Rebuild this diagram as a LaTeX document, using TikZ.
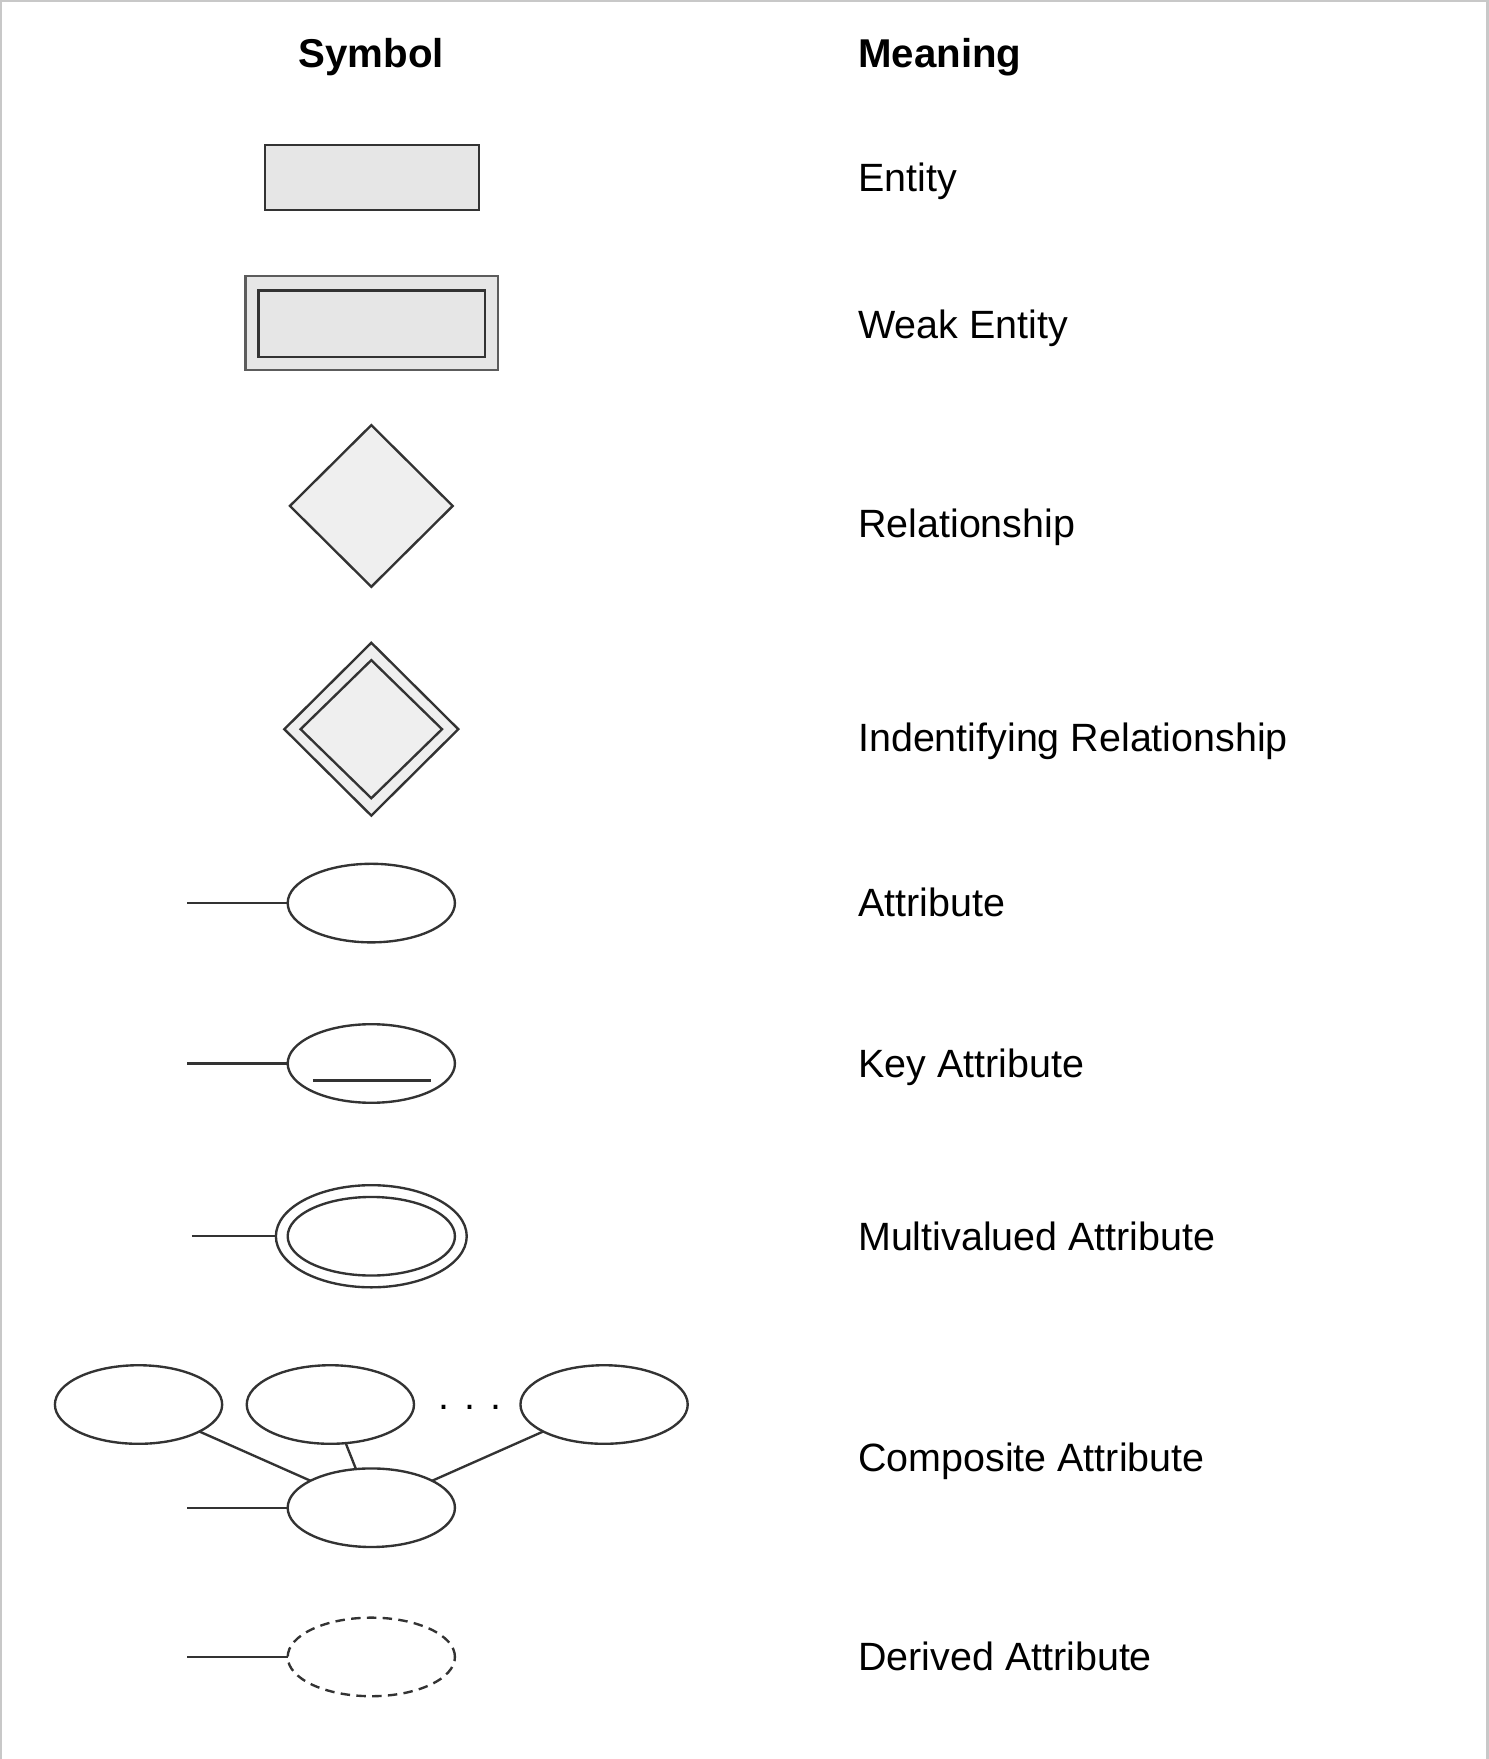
\documentclass[tikz,border=0pt]{standalone}
\usepackage{fontspec}
\setmainfont{Liberation Sans}
\usetikzlibrary{shapes.geometric,positioning}

\definecolor{shapefill}{HTML}{E6E6E6}
\definecolor{diafill}{HTML}{EFEFEF}
\definecolor{linegray}{HTML}{333333}
\definecolor{framegray}{HTML}{C8C8C8}

\begin{document}
\begin{tikzpicture}[x=0.01cm,y=-0.01cm,line width=0.6pt,
                    every node/.style={inner sep=0pt,outer sep=0pt},
                    every edge/.style={draw=linegray,line width=0.6pt},
                    head/.style={yshift=-0.03cm,font=\fontsize{10.2}{12}\selectfont\bfseries},
                    meaning/.style={anchor=mid west,yshift=-0.03cm,font=\fontsize{10}{12}\selectfont},
                    entity/.style={rectangle,draw=linegray,fill=shapefill},
                    relship/.style={diamond,draw=linegray,fill=diafill},
                    attr/.style={ellipse,draw=linegray,minimum width=1.49cm,minimum height=0.7cm}]
  \useasboundingbox (0,0) rectangle (1327,1568);
  \draw[framegray] (1,1568) -- (1,1) -- (1326,1) -- (1326,1568);

  \node[head] (symhead) at (331,48) {Symbol};
  \node[head,anchor=mid west] (meanhead) at (765,48) {Meaning};

  \node[entity,minimum width=1.91cm,minimum height=0.58cm] (ent) at (331.5,158) {};
  \node[entity,draw=linegray!80,minimum width=2.25cm,minimum height=0.84cm] (wkout) at (331.5,288) {};
  \node[entity,minimum width=2.02cm,minimum height=0.59cm] (wkin) at (331.5,288.5) {};

  \node[relship,minimum width=1.45cm,minimum height=1.44cm] (rel) at (331,451) {};
  \node[relship,minimum width=1.55cm,minimum height=1.54cm] (idout) at (331,650) {};
  \node[relship,minimum width=1.26cm,minimum height=1.23cm] (idin) at (331,650) {};

  \node[attr] (att) at (331,805) {};
  \node[attr] (key) at (331,948) {};
  \draw[linegray] (279,963) -- (384,963);
  \node[attr,minimum width=1.70cm,minimum height=0.91cm] (mvout) at (331,1102) {};
  \node[attr] (mvin) at (331,1102) {};

  \node[attr] (c1) at (123.5,1252) {};
  \node[attr] (c2) at (294.5,1252) {};
  \node[font=\fontsize{10}{12}\selectfont,anchor=base] (dots) at (419,1256) {. . .};
  \node[attr] (c3) at (538.5,1252) {};
  \node[attr] (comp) at (331,1344) {};

  \node[attr,dash pattern=on 2.4pt off 1.6pt] (der) at (331,1477) {};

  \coordinate (attS) at (167,805);
  \coordinate (keyS) at (167,948);
  \coordinate (mvS) at (171,1102);
  \coordinate (compS) at (167,1344);
  \coordinate (derS) at (167,1477);

  \path (attS) edge (att)
        (keyS) edge (key)
        (mvS) edge (mvout)
        (compS) edge (comp)
        (c1) edge (comp)
        (c2) edge (comp)
        (c3) edge (comp)
        (derS) edge (der);

  \node[meaning] (entm) at (765,158) {Entity};
  \node[meaning] (wkm) at (765,289) {Weak Entity};
  \node[meaning] (relm) at (765,467) {Relationship};
  \node[meaning] (idm) at (765,658) {Indentifying Relationship};
  \node[meaning] (attm) at (765,805) {Attribute};
  \node[meaning] (keym) at (765,948) {Key Attribute};
  \node[meaning] (mvm) at (765,1102) {Multivalued Attribute};
  \node[meaning] (compm) at (765,1299) {Composite Attribute};
  \node[meaning] (derm) at (765,1477) {Derived Attribute};
\end{tikzpicture}
\end{document}
